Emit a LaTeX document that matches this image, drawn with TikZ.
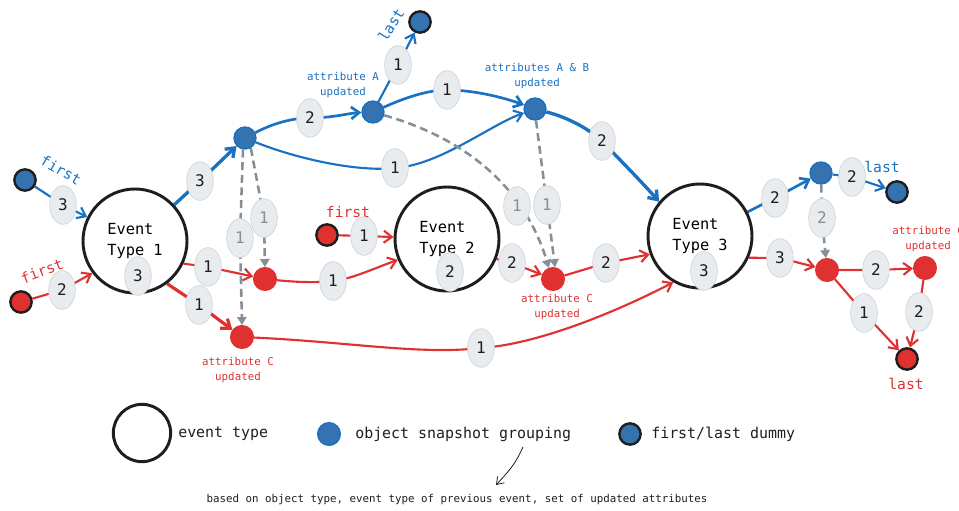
\documentclass[tikz,border=0pt]{standalone}
\usepackage{fontspec}
\setmainfont{DejaVu Sans Mono}
\usetikzlibrary{arrows.meta,shapes.geometric}
\definecolor{cblue}{HTML}{1971C2}
\definecolor{cbluefill}{HTML}{3472B0}
\definecolor{cred}{HTML}{E03131}
\definecolor{cgray}{HTML}{868E96}
\definecolor{lfill}{HTML}{E9ECEF}
\definecolor{ldraw}{HTML}{CED4DA}
\definecolor{cblack}{HTML}{1E1E1E}
\pgfdeclarelayer{edges}
\pgfsetlayers{edges,main}
\tikzset{
  evt/.style={circle, draw=cblack, line width=2.2pt, minimum size=78pt, inner sep=0pt, align=left, font=\fontsize{11.5}{15.5}\selectfont},
  snap/.style={circle, fill=cbluefill, draw=cblue, line width=1pt, minimum size=16.5pt, inner sep=0pt},
  bdum/.style={circle, fill=cbluefill, draw=cblack, line width=1.8pt, minimum size=16pt, inner sep=0pt},
  rdot/.style={circle, fill=cred, draw=cred, line width=1pt, minimum size=17pt, inner sep=0pt},
  rdum/.style={circle, fill=cred, draw=cblack, line width=1.8pt, minimum size=16pt, inner sep=0pt},
  lab/.style={ellipse, fill=lfill, draw=ldraw, line width=0.5pt, minimum width=20pt, minimum height=29pt, inner sep=0pt, text=cblack, font=\fontsize{12}{12}\selectfont},
  glab/.style={lab, text=cgray},
  tip/.style={-{Straight Barb[length=6pt,width=9pt]}},
  bl/.style={draw=cblue, line width=1.6pt, tip},
  blm/.style={draw=cblue, line width=2pt, tip},
  blt/.style={draw=cblue, line width=2.5pt, tip},
  rl/.style={draw=cred, line width=1.6pt, tip},
  rlt/.style={draw=cred, line width=2.4pt, tip},
  gl/.style={draw=cgray, line width=1.9pt, dash pattern=on 6pt off 3.5pt, -{Triangle[length=6pt,width=7pt]}},
  btxt/.style={text=cblue, font=\fontsize{11}{11}\selectfont, inner sep=0pt},
  rtxt/.style={text=cred, font=\fontsize{11}{11}\selectfont, inner sep=0pt},
  bsm/.style={text=cblue, align=center, font=\fontsize{8.1}{11.2}\selectfont, inner sep=0pt},
  rsm/.style={text=cred, align=center, font=\fontsize{8.1}{11.2}\selectfont, inner sep=0pt},
  ltxt/.style={text=cblack, anchor=west, inner sep=0pt, font=\fontsize{11.2}{11.2}\selectfont},
}
\begin{document}
\begin{tikzpicture}[x=0.75pt, y=-0.75pt]
\useasboundingbox (0,0) rectangle (959,510);
% event types
\node[evt] (et1) at (135,241) {Event\\Type 1};
\node[evt] (et2) at (447,239) {Event\\Type 2};
\node[evt] (et3) at (700,236) {Event\\Type 3};
% blue snapshots
\node[snap] (b1) at (245,138) {};
\node[snap] (b2) at (373,112) {};
\node[snap] (b3) at (535,109) {};
\node[snap] (b4) at (821,173) {};
% blue dummies
\node[bdum] (fb) at (25,180) {};
\node[bdum] (lt) at (420,22) {};
\node[bdum] (lr) at (897,192) {};
% red nodes
\node[rdot] (r1) at (265,279) {};
\node[rdot] (r2) at (242,337) {};
\node[rdot] (r3) at (553,279) {};
\node[rdot] (r4) at (827,270) {};
\node[rdot] (r5) at (925,268) {};
\node[rdum] (fr) at (21,302) {};
\node[rdum] (fm) at (327,235) {};
\node[rdum] (lred) at (907,359) {};
% blue labels
\node[lab] (lb1) at (63,205) {3};
\node[lab] (lb2) at (200,181) {3};
\node[lab] (lb3) at (310,118) {2};
\node[lab] (lb4) at (398,65) {1};
\node[lab] (lb5) at (447,90) {1};
\node[lab] (lb6) at (395,168) {1};
\node[lab] (lb7) at (602,141) {2};
\node[lab] (lb8) at (775,198) {2};
\node[lab] (lb9) at (852,177) {2};
% red labels
\node[lab] (lr1) at (62,290) {2};
\node[lab] (lr2) at (208,267) {1};
\node[lab] (lr3) at (199,305) {1};
\node[lab] (lr4) at (333,281) {1};
\node[lab] (lr5) at (364,236) {1};
\node[lab] (lr6) at (512,263) {2};
\node[lab] (lr7) at (606,263) {2};
\node[lab] (lr8) at (481,348) {1};
\node[lab] (lr9) at (780,258) {3};
\node[lab] (lr10) at (876,270) {2};
\node[lab] (lr11) at (864,313) {1};
\node[lab] (lr12) at (919,312) {2};
% event count labels
\node[lab] (le1) at (138,276) {3};
\node[lab] (le2) at (450,272) {2};
\node[lab] (le3) at (704,271) {3};
% gray labels
\node[glab] (lg1) at (240,238) {1};
\node[glab] (lg2) at (264,218) {1};
\node[glab] (lg3) at (517,206) {1};
\node[glab] (lg4) at (547,205) {1};
\node[glab] (lg5) at (822,218) {2};
% texts
\node[btxt, rotate=-30] (tfb) at (61,170) {first};
\node[rtxt, rotate=21] (tfr) at (42,271) {first};
\node[rtxt] (tfm) at (348,212) {first};
\node[btxt, rotate=58] (tlt) at (391,25) {last};
\node[btxt] (tlr) at (882,167) {last};
\node[rtxt] (tlred) at (906,384) {last};
\node[bsm] (tA) at (343,85) {attribute A\\updated};
\node[bsm] (tAB) at (537,76) {attributes A \& B\\updated};
\node[rsm] (tC1) at (238,370) {attribute C\\updated};
\node[rsm] (tC2) at (557,307) {attribute C\\updated};
\node[rsm] (tC3) at (928,239) {attribute C\\updated};
% legend
\node[evt, minimum size=43pt] (lgE) at (142,433) {};
\node[ltxt] (lgEt) at (178,434) {event type};
\node[snap, minimum size=17pt] (lgS) at (329,434) {};
\node[ltxt] (lgSt) at (355,434) {object snapshot grouping};
\node[bdum] (lgD) at (630,434) {};
\node[ltxt] (lgDt) at (651,434) {first/last dummy};
\node[text=cblack, inner sep=0pt, font=\fontsize{8.1}{8.1}\selectfont] (note) at (457,500) {based on object type, event type of previous event, set of updated attributes};
\coordinate (arS) at (523,447);
\coordinate (arE) at (496,485);
\begin{pgfonlayer}{edges}
% blue edges
\draw[bl] (fb) -- (lb1.center) -- (et1);
\draw[blt] (et1) -- (lb2.center) -- (b1);
\draw[blm] (b1) .. controls (268,126) and (288,118) .. (lb3.center) .. controls (332,118) and (350,113) .. (b2);
\draw[bl] (b2) -- (lb4.center) -- (lt);
\draw[blm] (b2) .. controls (400,100) and (425,90) .. (lb5.center) .. controls (475,90) and (505,98) .. (b3);
\draw[bl] (b1) .. controls (300,160) and (360,172) .. (lb6.center) .. controls (440,165) and (490,125) .. (b3);
\draw[blt] (b3) .. controls (570,118) and (590,130) .. (lb7.center) .. controls (616,156) and (640,180) .. (et3.140);
\draw[blm] (et3) -- (lb8.center) -- (b4);
\draw[bl] (b4) -- (lb9.center) -- (lr);
% red edges
\draw[rl] (fr) -- (lr1.center) -- (et1.217);
\draw[rl] (et1.-25) -- (lr2.center) -- (r1);
\draw[rlt] (et1.-53) -- (lr3.center) -- (r2);
\draw[rl] (r1) .. controls (295,282) and (315,283) .. (lr4.center) .. controls (352,279) and (375,268) .. (et2.203);
\draw[rl] (fm) -- (lr5.center) -- (et2);
\draw[rl] (et2.-22) -- (lr6.center) -- (r3);
\draw[rl] (r3) -- (lr7.center) -- (et3.200);
\draw[rl] (r2) .. controls (350,342) and (420,355) .. (lr8.center) .. controls (540,344) and (620,310) .. (et3.240);
\draw[rl] (et3.-24) -- (lr9.center) -- (r4);
\draw[rl] (r4) -- (lr10.center) -- (r5);
\draw[rl] (r4) -- (lr11.center) -- (lred);
\draw[rl] (r5) -- (lr12.center) -- (lred);
% gray dashed
\draw[gl] (b1.-100) -- (lg1.center) -- (r2.north);
\draw[gl] (b1.-60) -- (lg2.center) -- (r1.north);
\draw[gl] (b2) .. controls (470,140) and (525,190) .. (r3.110);
\draw[gl] (b3.-85) -- (lg4.center) -- (r3.80);
\draw[gl] (b4) -- (lg5.center) -- (r4);
% note arrow
\draw[cblack, line width=0.6pt, -{Straight Barb[length=5pt,width=7pt]}] (arS) .. controls (515,465) and (508,472) .. (arE);
\end{pgfonlayer}
\end{tikzpicture}
\end{document}
